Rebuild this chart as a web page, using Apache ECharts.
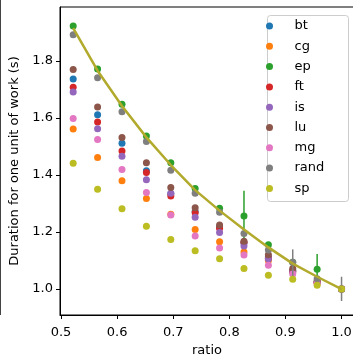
<!DOCTYPE html>
<html>
<head>
<meta charset="utf-8">
<script src="https://cdn.jsdelivr.net/npm/echarts@6/dist/echarts.min.js"></script>
<style>
  html, body { margin: 0; padding: 0; background: #fff; }
  #chart { width: 353px; height: 356px; }
</style>
</head>
<body>
<div id="chart"></div>
<script>
// Ratios k/23 for k = 12..23
const ratios = [0.5217, 0.5652, 0.6087, 0.6522, 0.6957, 0.7391, 0.7826, 0.8261, 0.8696, 0.9130, 0.9565, 1.0];

const bt   = [1.737, 1.611, 1.511, 1.415, 1.334, 1.272, 1.218, 1.162, 1.112, 1.065, 1.025, 1.0];
const cg   = [1.561, 1.461, 1.380, 1.318, 1.262, 1.209, 1.166, 1.130, 1.100, 1.060, 1.022, 1.0];
const ep   = [1.923, 1.772, 1.648, 1.537, 1.443, 1.353, 1.283, 1.256, 1.155, 1.094, 1.069, 1.0];
const ft   = [1.708, 1.586, 1.484, 1.409, 1.326, 1.268, 1.213, 1.163, 1.108, 1.063, 1.024, 1.0];
const is_  = [1.691, 1.562, 1.466, 1.383, 1.336, 1.252, 1.198, 1.151, 1.105, 1.060, 1.022, 1.0];
const lu   = [1.770, 1.639, 1.532, 1.443, 1.356, 1.285, 1.225, 1.168, 1.120, 1.072, 1.028, 1.0];
const mg   = [1.598, 1.525, 1.419, 1.339, 1.260, 1.186, 1.144, 1.119, 1.083, 1.053, 1.020, 1.0];
const rand = [1.892, 1.741, 1.622, 1.518, 1.417, 1.336, 1.269, 1.195, 1.137, 1.094, 1.036, 1.0];
const sp   = [1.441, 1.350, 1.282, 1.220, 1.174, 1.134, 1.106, 1.072, 1.048, 1.034, 1.013, 1.0];

// Fitted curve through the slowest runs
const fit  = [1.915, 1.766, 1.642, 1.532, 1.435, 1.347, 1.275, 1.209, 1.146, 1.089, 1.043, 1.0];

// Error bars: [ratio, low, high]
const epErr   = [[0.8261, 1.166, 1.345], [0.9565, 1.043, 1.123]];
const randErr = [[0.9130, 1.041, 1.139], [1.0, 0.958, 1.043]];

const names  = ['bt', 'cg', 'ep', 'ft', 'is', 'lu', 'mg', 'rand', 'sp'];
const values = [bt, cg, ep, ft, is_, lu, mg, rand, sp];
const colors = ['#1f77b4', '#ff7f0e', '#2ca02c', '#d62728', '#9467bd', '#8c564b', '#e377c2', '#7f7f7f', '#bcbd22'];

const xTicks = [0.5, 0.6, 0.7, 0.8, 0.9, 1.0];
const yTicks = [1.0, 1.2, 1.4, 1.6, 1.8];

const FONT = 'DejaVu Sans';
const FS = 13;

function errSeries(data, color, z) {
  return {
    type: 'custom',
    z: z,
    silent: true,
    data: data,
    renderItem: function (params, api) {
      const p1 = api.coord([api.value(0), api.value(1)]);
      const p2 = api.coord([api.value(0), api.value(2)]);
      return {
        type: 'line',
        shape: { x1: p1[0], y1: p1[1], x2: p2[0], y2: p2[1] },
        style: { stroke: color, lineWidth: 1.5 }
      };
    }
  };
}

const series = [];
names.forEach(function (n, i) {
  series.push({
    name: n,
    type: 'scatter',
    symbol: 'circle',
    symbolSize: 7,
    z: 2 + i,
    itemStyle: { color: colors[i], opacity: 1 },
    data: ratios.map(function (r, j) { return [r, values[i][j]]; })
  });
});
series.push(errSeries(epErr, colors[2], 4));
series.push(errSeries(randErr, colors[7], 9));
series.push({
  name: 'fit',
  type: 'line',
  z: 20,
  symbol: 'none',
  lineStyle: { color: '#b2aa2c', width: 2.5 },
  data: ratios.map(function (r, j) { return [r, fit[j]]; })
});

const chart = echarts.init(document.getElementById('chart'), null, { renderer: 'canvas' });
chart.setOption({
  animation: false,
  backgroundColor: '#fff',
  textStyle: { fontFamily: FONT },
  grid: {
    left: 60, top: 7, width: 294, height: 308,
    containLabel: false, outerBoundsMode: 'none',
    show: true, borderColor: '#000', borderWidth: 1, backgroundColor: 'transparent'
  },
  xAxis: {
    type: 'value',
    min: 0.4982, max: 1.0222,
    name: 'ratio', nameLocation: 'middle', nameGap: 27,
    nameTextStyle: { fontFamily: FONT, fontSize: FS, color: '#000' },
    axisLine: { show: true, onZero: false, lineStyle: { color: '#000', width: 1 } },
    axisTick: { show: true, length: 4, lineStyle: { color: '#000' }, customValues: xTicks },
    axisLabel: {
      fontFamily: FONT, fontSize: FS, color: '#000', margin: 11,
      customValues: xTicks,
      formatter: function (v) { return v.toFixed(1); }
    },
    splitLine: { show: false }
  },
  yAxis: {
    type: 'value',
    min: 0.9088, max: 1.9895,
    name: 'Duration for one unit of work (s)', nameLocation: 'middle', nameGap: 38,
    nameTextStyle: { fontFamily: FONT, fontSize: FS, color: '#000' },
    axisLine: { show: true, onZero: false, lineStyle: { color: '#000', width: 1 } },
    axisTick: { show: true, length: 4, lineStyle: { color: '#000' }, customValues: yTicks },
    axisLabel: {
      fontFamily: FONT, fontSize: FS, color: '#000', margin: 7,
      customValues: yTicks,
      formatter: function (v) { return v.toFixed(1); }
    },
    splitLine: { show: false }
  },
  legend: {
    data: names,
    z: 60,
    orient: 'vertical',
    left: 266, top: 19,
    padding: 0,
    itemWidth: 40, itemHeight: 7,
    itemGap: 6.3,
    icon: 'circle',
    textStyle: { fontFamily: FONT, fontSize: FS, color: '#000', lineHeight: 14, padding: [0, 0, 0, 0] },
    selectedMode: false
  },
  graphic: [
    {
      type: 'rect', z: 30, silent: true,
      shape: { x: 267.5, y: 15.5, width: 81, height: 186, r: 3 },
      style: { fill: 'rgba(255,255,255,0.8)', stroke: '#cccccc', lineWidth: 1 }
    },
    {
      type: 'line', z: 30, silent: true,
      shape: { x1: 0.5, y1: 0, x2: 0.5, y2: 315 },
      style: { stroke: '#444', lineWidth: 1 }
    }
  ],
  series: series
});
</script>
</body>
</html>
